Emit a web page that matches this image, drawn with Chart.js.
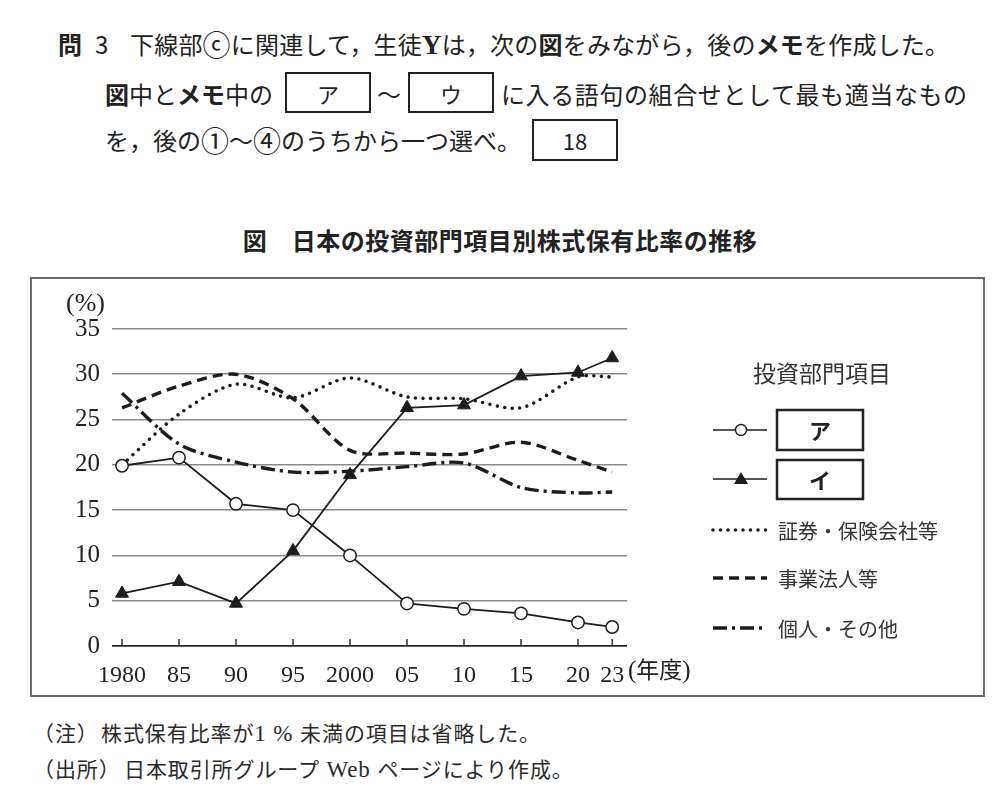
<!DOCTYPE html>
<html lang="ja">
<head>
<meta charset="utf-8">
<script src="https://cdn.jsdelivr.net/npm/chart.js@4.4.1/dist/chart.umd.min.js"></script>
<style>
  html, body { margin:0; padding:0; background:#fff; }
  body { width:1000px; height:796px; position:relative; overflow:hidden;
         font-family:"Noto Sans CJK JP","Noto Sans",sans-serif; color:#222; }
  .t { position:absolute; white-space:nowrap; font-size:24px; line-height:30px; }
  .b { font-weight:700; }
  .box { position:absolute; border:2.5px solid #222; box-sizing:border-box;
         display:flex; align-items:center; justify-content:center; font-size:22px; }
  .serif { font-family:"Liberation Serif","DejaVu Serif",serif; }
  #frame { position:absolute; left:30px; top:277px; width:955px; height:420px;
           border:2px solid #6a6a6a; box-sizing:border-box; }
  #c { position:absolute; left:30px; top:277px; }
  .note { position:absolute; white-space:nowrap; font-size:21px; line-height:26px; color:#2a2a2a; letter-spacing:0.9px; }
  .big { font-size:28px; line-height:25px; vertical-align:-2px; }
</style>
</head>
<body>
<div class="t" style="left:58px;top:29px;"><span class="b">問</span></div>
<div class="t" style="left:95px;top:29px;font-size:24px;">3</div>
<div class="t" style="left:130px;top:29px;letter-spacing:0.2px;">下線部<span class="big">ⓒ</span>に関連して，生徒<span class="b serif" style="font-size:27px">Y</span>は，次の<span class="b">図</span>をみながら，後の<span class="b">メモ</span>を作成した。</div>

<div class="t" style="left:105px;top:79px;"><span class="b">図</span>中と<span class="b">メモ</span>中の</div>
<div class="box" style="left:285px;top:72px;width:86px;height:41px;">ア</div>
<div class="t" style="left:377px;top:79px;">～</div>
<div class="box" style="left:408px;top:72px;width:86px;height:41px;">ウ</div>
<div class="t" style="left:501px;top:79px;letter-spacing:0.6px;">に入る語句の組合せとして最も適当なもの</div>

<div class="t" style="left:105px;top:125px;">を，後の<span class="big">①</span>～<span class="big">④</span>のうちから一つ選べ。</div>
<div class="box" style="left:532px;top:119px;width:86px;height:42px;">18</div>

<div class="t b" style="left:0;width:1000px;text-align:center;top:225px;font-size:24px;letter-spacing:0.5px;">図　日本の投資部門項目別株式保有比率の推移</div>

<div id="frame"></div>
<canvas id="c" width="955" height="420" style="width:955px;height:420px;"></canvas>
<div class="t serif" style="left:66px;top:288px;font-size:26px;">(%)</div>
<div class="t serif" style="left:628px;top:653px;font-size:25px;">(<span style="font-family:'Noto Sans CJK JP';font-size:23px">年度</span>)</div>

<div class="note" style="left:33px;top:719px;">（注）</div>
<div class="note" style="left:101px;top:719px;">株式保有比率が<span class="serif" style="font-size:23px">1 % </span>未満の項目は省略した。</div>
<div class="note" style="left:33px;top:755px;">（出所）</div>
<div class="note" style="left:124px;top:755px;">日本取引所グループ<span class="serif" style="font-size:23px"> Web </span>ページにより作成。</div>

<script>
// ---- data ----
const years = [1980, 1985, 1990, 1995, 2000, 2005, 2010, 2015, 2020, 2023];
const yearLabels = ["1980", "85", "90", "95", "2000", "05", "10", "15", "20", "23"];
const seriesA = [19.9, 20.8, 15.7, 15.0, 10.0, 4.7, 4.1, 3.6, 2.6, 2.1];      // ア
const seriesI = [5.8, 7.1, 4.7, 10.5, 18.9, 26.3, 26.6, 29.8, 30.2, 31.8];    // イ
const securities = [20.0, 25.6, 28.9, 27.4, 29.6, 27.5, 27.3, 26.3, 29.7, 29.7]; // 証券・保険会社等
const business = [26.3, 28.7, 30.0, 27.3, 21.6, 21.3, 21.2, 22.5, 20.5, 19.2];   // 事業法人等
const individuals = [27.9, 22.3, 20.3, 19.2, 19.3, 19.8, 20.2, 17.5, 16.9, 17.0]; // 個人・その他
const yTicks = [0, 5, 10, 15, 20, 25, 30, 35];
const legendTitle = "投資部門項目";
const legendLabels = ["ア", "イ", "証券・保険会社等", "事業法人等", "個人・その他"];

const pts = arr => arr.map((v, i) => ({ x: years[i], y: v }));
const INK = '#1c1c1c';

const datasets = [
  { label: legendLabels[0], data: pts(seriesA), borderColor: INK, borderWidth: 1.8,
    pointStyle: 'circle', pointRadius: 6.2, pointBackgroundColor: '#fff', pointBorderColor: INK,
    pointBorderWidth: 1.5, tension: 0 },
  { label: legendLabels[1], data: pts(seriesI), borderColor: INK, borderWidth: 1.8,
    pointStyle: 'triangle', pointRadius: 7.5, pointBackgroundColor: INK, pointBorderColor: INK,
    pointBorderWidth: 1, tension: 0 },
  { label: legendLabels[2], data: pts(securities), borderColor: INK, borderWidth: 3.6,
    borderDash: [0, 7.5], borderCapStyle: 'round', pointRadius: 0, tension: 0.3 },
  { label: legendLabels[3], data: pts(business), borderColor: INK, borderWidth: 3.4,
    borderDash: [10, 6], borderCapStyle: 'butt', pointRadius: 0, tension: 0.3 },
  { label: legendLabels[4], data: pts(individuals), borderColor: INK, borderWidth: 3.4,
    borderDash: [14, 5, 3, 5], borderCapStyle: 'butt', pointRadius: 0, tension: 0.3 }
];

const OX = 30, OY = 277; // canvas origin in page coords

const extras = {
  id: 'extras',
  beforeDatasetsDraw(chart) {
    const ctx = chart.ctx, xs = chart.scales.x, bottom = chart.chartArea.bottom;
    ctx.save();
    ctx.strokeStyle = '#333'; ctx.lineWidth = 1.5;
    years.forEach(y => {
      const px = xs.getPixelForValue(y);
      ctx.beginPath(); ctx.moveTo(px, bottom - 7); ctx.lineTo(px, bottom); ctx.stroke();
    });
    ctx.restore();
  },
  afterDraw(chart) {
    const ctx = chart.ctx;
    const ds = chart.data.datasets;
    ctx.save();
    ctx.fillStyle = '#333';
    ctx.textBaseline = 'middle';
    ctx.textAlign = 'center';
    ctx.font = '23px "Noto Sans CJK JP"';
    ctx.fillText(legendTitle, 822 - OX, 373 - OY);

    const lx0 = 713 - OX, lx1 = 767 - OX;
    const rowY = [430, 479, 530, 578, 628].map(v => v - OY);
    ds.forEach((d, i) => {
      const y = rowY[i];
      ctx.save();
      ctx.strokeStyle = d.borderColor;
      ctx.lineWidth = i < 2 ? 1.6 : d.borderWidth;
      ctx.setLineDash(d.borderDash || []);
      ctx.lineCap = d.borderCapStyle || 'butt';
      ctx.beginPath(); ctx.moveTo(lx0, y); ctx.lineTo(lx1, y); ctx.stroke();
      ctx.restore();
      if (i === 0) {
        ctx.save(); ctx.fillStyle = '#fff'; ctx.strokeStyle = INK; ctx.lineWidth = 1.4;
        ctx.beginPath(); ctx.arc(741 - OX, y, 5.5, 0, Math.PI * 2); ctx.fill(); ctx.stroke(); ctx.restore();
      } else if (i === 1) {
        ctx.save(); ctx.fillStyle = INK;
        const cx = 741 - OX;
        ctx.beginPath(); ctx.moveTo(cx, y - 7); ctx.lineTo(cx + 7, y + 5); ctx.lineTo(cx - 7, y + 5); ctx.closePath(); ctx.fill();
        ctx.restore();
      }
      if (i < 2) {
        const bx = 777 - OX, bw = 86, bh = i === 0 ? 40 : 39, by = (i === 0 ? 410 : 460) - OY;
        ctx.save(); ctx.strokeStyle = '#222'; ctx.lineWidth = 2.5;
        ctx.strokeRect(bx, by, bw, bh);
        ctx.fillStyle = '#222'; ctx.font = 'bold 22px "Noto Sans CJK JP"'; ctx.textAlign = 'center';
        ctx.fillText(d.label, bx + bw / 2, by + bh / 2 + 1);
        ctx.restore();
      } else {
        ctx.save(); ctx.fillStyle = '#333'; ctx.font = '20px "Noto Sans CJK JP"'; ctx.textAlign = 'left';
        ctx.fillText(d.label, 778 - OX, y + 1);
        ctx.restore();
      }
    });
    ctx.restore();
  }
};

new Chart(document.getElementById('c'), {
  type: 'line',
  data: { datasets },
  options: {
    responsive: false,
    animation: false,
    events: [],
    layout: { padding: { left: 0, top: 52, right: 358, bottom: 0 } },
    plugins: { legend: { display: false }, title: { display: false }, tooltip: { enabled: false } },
    scales: {
      x: {
        type: 'linear', min: 1979.12, max: 2024.3,
        afterBuildTicks: s => { s.ticks = years.map(v => ({ value: v })); },
        afterFit: s => { s.height = 51; },
        grid: { display: false },
        border: { display: false },
        ticks: {
          autoSkip: false, maxRotation: 0, padding: 7, color: '#222',
          font: { family: '"Liberation Serif", serif', size: 24 },
          callback: (v) => { const i = years.indexOf(v); return i >= 0 ? yearLabels[i] : ''; }
        }
      },
      y: {
        min: 0, max: 35,
        afterBuildTicks: s => { s.ticks = yTicks.map(v => ({ value: v })); },
        afterFit: s => { s.width = 82; },
        grid: {
          drawTicks: false,
          color: c => c.tick && c.tick.value === 0 ? '#2a2a2a' : '#8a8a8a',
          lineWidth: c => c.tick && c.tick.value === 0 ? 1.8 : 1.6
        },
        border: { display: false },
        ticks: {
          padding: 12, color: '#222',
          font: { family: '"Liberation Serif", serif', size: 25 }
        }
      }
    }
  },
  plugins: [extras]
});
</script>
</body>
</html>
